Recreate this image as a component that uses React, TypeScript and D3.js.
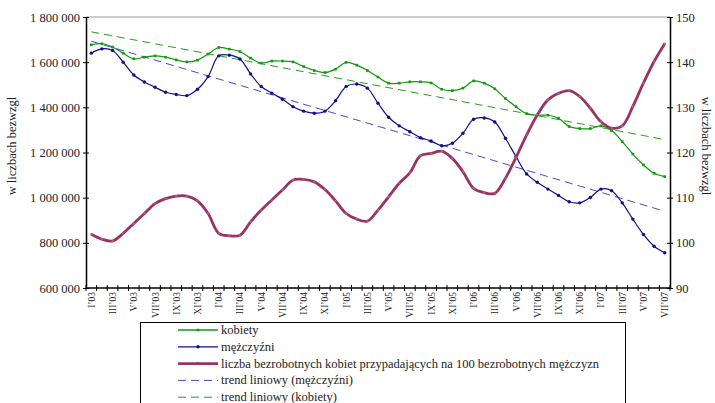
import * as React from 'react';
import * as d3 from 'd3';

// miesiące I'03 .. VII'07
const romans = ['I', 'II', 'III', 'IV', 'V', 'VI', 'VII', 'VIII', 'IX', 'X', 'XI', 'XII'];
const years = ['03', '04', '05', '06', '07'];
const months: string[] = [];
years.forEach((yy) => romans.forEach((r) => months.push(`${r}’${yy}`)));
const categories = months.slice(0, 55);

const kobiety = [
  1677000, 1681500, 1667000, 1640000, 1615000, 1622000, 1628000, 1622000, 1610000, 1601000, 1609000, 1636000,
  1665000, 1658000, 1647000, 1618000, 1596000, 1605000, 1605000, 1601000, 1581000, 1563000, 1554000, 1569000,
  1599000, 1587000, 1563000, 1534000, 1507000, 1507000, 1513000, 1513000, 1508000, 1480000, 1474000, 1485000,
  1517000, 1507000, 1482000, 1439000, 1403000, 1372000, 1365000, 1365000, 1352000, 1315000, 1306000, 1306000,
  1318000, 1297000, 1248000, 1193000, 1145000, 1108000, 1093000,
];

const mezczyzni = [
  1640000, 1659000, 1652000, 1600000, 1543000, 1512000, 1489000, 1467000, 1457000, 1452000, 1480000, 1536000,
  1628000, 1631000, 1614000, 1548000, 1492000, 1463000, 1436000, 1403000, 1383000, 1374000, 1383000, 1429000,
  1492000, 1503000, 1485000, 1418000, 1356000, 1318000, 1292000, 1266000, 1251000, 1230000, 1241000, 1285000,
  1347000, 1353000, 1335000, 1263000, 1182000, 1105000, 1068000, 1038000, 1010000, 982000, 977000, 1001000,
  1038000, 1031000, 977000, 905000, 837000, 785000, 756000,
];

const wskaznik = [
  101.9, 100.8, 100.4, 102.1, 104.3, 106.5, 108.7, 109.8, 110.35, 110.35, 109.3, 106.5,
  102.1, 101.55, 101.7, 104.65, 107.25, 109.5, 111.7, 113.9, 114.05, 113.5, 111.8, 109.3,
  106.5, 105.25, 104.8, 107.25, 110.2, 113.2, 115.5, 119.3, 119.8, 120.3, 118.7, 115.75,
  112.05, 111.1, 110.95, 114.3, 118.9, 123.9, 128.3, 131.65, 133.1, 133.7, 132.4, 129.8,
  126.8, 125.4, 125.9, 130.2, 135.4, 140.15, 144.1,
];

const leftTicks = [600000, 800000, 1000000, 1200000, 1400000, 1600000, 1800000];
const rightTicks = [90, 100, 110, 120, 130, 140, 150];

const legendLabels = [
  'kobiety',
  'mężczyźni',
  'liczba bezrobotnych kobiet przypadających na 100 bezrobotnych mężczyzn',
  'trend liniowy (mężczyźni)',
  'trend liniowy (kobiety)',
];

const GREEN = '#119911';
const BLUE = '#10108c';
const PLUM = '#993366';
const BLUE_DASH = '#4848d0';
const GREEN_DASH = '#22a022';
const FONT = '"Liberation Serif", "Times New Roman", serif';

function linearTrend(values: number[]) {
  const n = values.length;
  const mx = d3.mean(values, (_, i) => i) as number;
  const my = d3.mean(values) as number;
  let sxy = 0;
  let sxx = 0;
  values.forEach((v, i) => {
    sxy += (i - mx) * (v - my);
    sxx += (i - mx) * (i - mx);
  });
  const b = sxy / sxx;
  const a = my - b * mx;
  return [0, n - 1].map((i) => ({ i, v: a + b * i }));
}

const Chart = () => {
  const ref = React.useRef<SVGSVGElement | null>(null);

  React.useEffect(() => {
    if (!ref.current) return;
    const svg = d3.select(ref.current);
    svg.selectAll('*').remove();

    const left = 86;
    const right = 670;
    const top = 17;
    const bottom = 288;

    const x = d3.scaleBand<number>().domain(d3.range(categories.length)).range([left, right]).paddingInner(0);
    const cx = (i: number) => (x(i) as number) + x.bandwidth() / 2;
    const yL = d3.scaleLinear().domain([600000, 1800000]).range([bottom, top]);
    const yR = d3.scaleLinear().domain([90, 150]).range([bottom, top]);

    svg.append('rect').attr('width', 715).attr('height', 403).attr('fill', '#fff');

    // górna ramka
    svg.append('line').attr('x1', left).attr('x2', right).attr('y1', top).attr('y2', top)
      .attr('stroke', '#999').attr('stroke-width', 1);

    // oś lewa
    const gl = svg.append('g').attr('transform', `translate(${left},0)`)
      .call(d3.axisLeft(yL).tickValues(leftTicks).tickSizeInner(4).tickSizeOuter(0)
        .tickFormat((d) => d3.format(',')(d as number).replace(/,/g, ' ')));
    gl.selectAll('.tick line').attr('x2', 3).attr('x1', -3).attr('stroke', '#000');
    gl.select('.domain').attr('stroke', '#000').attr('stroke-width', 1.5);
    gl.selectAll('.tick text').attr('x', -6).style('font-family', FONT).style('font-size', '12.5px').style('fill', '#222');

    // oś prawa
    const gr = svg.append('g').attr('transform', `translate(${right},0)`)
      .call(d3.axisRight(yR).tickValues(rightTicks).tickSizeInner(4).tickSizeOuter(0));
    gr.selectAll('.tick line').attr('x1', -3).attr('x2', 3).attr('stroke', '#000');
    gr.select('.domain').attr('stroke', '#000').attr('stroke-width', 1.5);
    gr.selectAll('.tick text').attr('x', 6).style('font-family', FONT).style('font-size', '12.5px').style('fill', '#222');

    // oś X
    const gx = svg.append('g');
    gx.append('line').attr('x1', left).attr('x2', right).attr('y1', bottom).attr('y2', bottom)
      .attr('stroke', '#000').attr('stroke-width', 1.5);
    gx.selectAll('.xt').data(d3.range(categories.length + 1)).enter().append('line')
      .attr('x1', (i) => (i < categories.length ? (x(i) as number) : right))
      .attr('x2', (i) => (i < categories.length ? (x(i) as number) : right))
      .attr('y1', bottom - 3).attr('y2', bottom + 3).attr('stroke', '#000');
    gx.selectAll('.xl').data(categories.map((c, i) => ({ c, i })).filter((d) => d.i % 2 === 0)).enter().append('text')
      .attr('transform', (d) => `translate(${cx(d.i) + 3.5},${bottom + 4}) rotate(-90)`)
      .attr('text-anchor', 'end')
      .style('font-family', FONT).style('font-size', '9.5px').style('fill', '#222')
      .text((d) => d.c);

    // etykiety osi
    svg.append('text').attr('transform', `translate(16,146) rotate(-90)`).attr('text-anchor', 'middle')
      .style('font-family', FONT).style('font-size', '12.5px').style('fill', '#222').text('w liczbach bezwzgl');
    svg.append('text').attr('transform', `translate(702,146) rotate(90)`).attr('text-anchor', 'middle')
      .style('font-family', FONT).style('font-size', '12.5px').style('fill', '#222').text('w liczbach bezwzgl');

    const curve = d3.curveCatmullRom.alpha(0.5);
    const lineL = d3.line<number>().x((_, i) => cx(i)).y((d) => yL(d)).curve(curve);
    const lineR = d3.line<number>().x((_, i) => cx(i)).y((d) => yR(d)).curve(curve);

    // trendy
    const trendLine = d3.line<{ i: number; v: number }>().x((d) => cx(d.i)).y((d) => yL(d.v));
    svg.append('path').attr('d', trendLine(linearTrend(mezczyzni)))
      .attr('fill', 'none').attr('stroke', BLUE_DASH).attr('stroke-width', 1).attr('stroke-dasharray', '8,5');
    svg.append('path').attr('d', trendLine(linearTrend(kobiety)))
      .attr('fill', 'none').attr('stroke', GREEN_DASH).attr('stroke-width', 1).attr('stroke-dasharray', '8,5');

    // serie
    svg.append('path').attr('d', lineL(kobiety)).attr('fill', 'none').attr('stroke', GREEN).attr('stroke-width', 1.2);
    svg.selectAll('.mk').data(kobiety).enter().append('rect')
      .attr('x', (_, i) => cx(i) - 1.3).attr('y', (d) => yL(d) - 1.3).attr('width', 2.6).attr('height', 2.6).attr('fill', GREEN);

    svg.append('path').attr('d', lineL(mezczyzni)).attr('fill', 'none').attr('stroke', BLUE).attr('stroke-width', 1.2);
    svg.selectAll('.mm').data(mezczyzni).enter().append('circle')
      .attr('cx', (_, i) => cx(i)).attr('cy', (d) => yL(d)).attr('r', 1.7).attr('fill', BLUE);

    svg.append('path').attr('d', lineR(wskaznik)).attr('fill', 'none').attr('stroke', PLUM).attr('stroke-width', 2.8);
    svg.selectAll('.mw').data(wskaznik).enter().append('rect')
      .attr('x', (_, i) => cx(i) - 1).attr('y', (d) => yR(d) - 1).attr('width', 2).attr('height', 2).attr('fill', '#b06080');

    // legenda
    const lg = svg.append('g');
    lg.append('rect').attr('x', 140.5).attr('y', 322.5).attr('width', 485).attr('height', 100)
      .attr('fill', '#fff').attr('stroke', '#000').attr('stroke-width', 1);
    const styles = [
      { color: GREEN, w: 1.3, dash: null, mark: 'rect' },
      { color: BLUE, w: 1.3, dash: null, mark: 'circle' },
      { color: PLUM, w: 2.8, dash: null, mark: 'rect' },
      { color: BLUE_DASH, w: 1, dash: '8,5', mark: null },
      { color: GREEN_DASH, w: 1, dash: '8,5', mark: null },
    ];
    legendLabels.forEach((label, k) => {
      const yy = 330 + k * 16.8;
      const s = styles[k];
      lg.append('line').attr('x1', 178).attr('x2', 218).attr('y1', yy).attr('y2', yy)
        .attr('stroke', s.color).attr('stroke-width', s.w).attr('stroke-dasharray', s.dash);
      if (s.mark === 'rect') {
        lg.append('rect').attr('x', 196.7).attr('y', yy - 1.3).attr('width', 2.6).attr('height', 2.6).attr('fill', s.color);
      } else if (s.mark === 'circle') {
        lg.append('circle').attr('cx', 198).attr('cy', yy).attr('r', 1.7).attr('fill', s.color);
      }
      lg.append('text').attr('x', 221).attr('y', yy + 4)
        .style('font-family', FONT).style('font-size', '12.5px').style('fill', '#222').text(label);
    });
  }, []);

  return <svg ref={ref} width={715} height={403} style={{ position: 'absolute', left: 0, top: 0, display: 'block' }} />;
};

export default function App() {
  return <Chart />;
}
